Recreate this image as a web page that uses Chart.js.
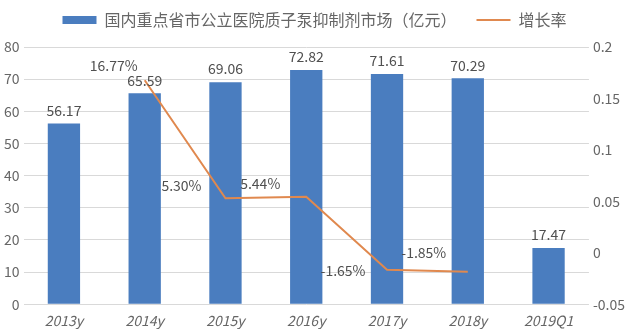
<!DOCTYPE html>
<html>
<head>
<meta charset="utf-8">
<script src="https://cdn.jsdelivr.net/npm/chart.js@4/dist/chart.umd.min.js"></script>
<style>
  html, body { margin: 0; padding: 0; background: #fff; }
  #wrap { width: 633px; height: 333px; }
</style>
</head>
<body>
<div id="wrap"><canvas id="grafico"></canvas></div>
<script>
const categorias = ['2013y', '2014y', '2015y', '2016y', '2017y', '2018y', '2019Q1'];
const mercado = [56.17, 65.59, 69.06, 72.82, 71.61, 70.29, 17.47];
const crescimento = [null, 0.1677, 0.0530, 0.0544, -0.0165, -0.0185, null];
const nomeBarras = '国内重点省市公立医院质子泵抑制剂市场（亿元）';
const nomeLinha = '增长率';

const fonte = '"Noto Sans CJK SC", "Noto Sans", sans-serif';
const cinza = '#666666';

// deslocamento dos rótulos de % em relação ao ponto
const desloc = [null, [-31, -15], [-44, -13], [-46, -13], [-44, 1], [-44, -19], null];

const rotulos = {
  id: 'rotulos',
  beforeLayout(chart) {
    // espaço extra abaixo da legenda
    const leg = chart.legend;
    if (leg && !leg._ajustado) {
      const fit = leg.fit;
      leg.fit = function () { fit.call(this); this.height += 9; };
      leg._ajustado = true;
    }
  },
  afterDatasetsDraw(chart) {
    const ctx = chart.ctx;
    ctx.save();
    ctx.font = '14px ' + fonte;
    ctx.fillStyle = '#505050';
    ctx.textAlign = 'center';
    ctx.textBaseline = 'middle';
    chart.getDatasetMeta(0).data.forEach((bar, i) => {
      ctx.fillText(mercado[i].toFixed(2), bar.x, bar.y - 13);
    });
    chart.getDatasetMeta(1).data.forEach((pt, i) => {
      if (crescimento[i] === null) return;
      const d = desloc[i];
      ctx.fillText((crescimento[i] * 100).toFixed(2) + '%', pt.x + d[0], pt.y + d[1]);
    });
    ctx.restore();
  }
};

new Chart(document.getElementById('grafico'), {
  type: 'bar',
  data: {
    labels: categorias,
    datasets: [
      {
        label: nomeBarras,
        data: mercado,
        backgroundColor: '#4a7dbf',
        yAxisID: 'y',
        order: 2,
        barPercentage: 0.8,
        categoryPercentage: 0.5,
        pointStyle: 'rect'
      },
      {
        type: 'line',
        label: nomeLinha,
        data: crescimento,
        borderColor: '#e0894f',
        backgroundColor: '#e0894f',
        borderWidth: 2,
        pointRadius: 0,
        pointStyle: 'line',
        yAxisID: 'y1',
        order: 1,
        spanGaps: false
      }
    ]
  },
  options: {
    responsive: true,
    maintainAspectRatio: false,
    animation: false,
    layout: { padding: { left: 0, right: 4, top: 0, bottom: 4 } },
    plugins: {
      tooltip: { enabled: false },
      legend: {
        position: 'top',
        labels: {
          usePointStyle: true,
          pointStyleWidth: 34,
          boxHeight: 8,
          padding: 12,
          color: cinza,
          font: { size: 16, family: fonte },
          generateLabels(chart) {
            const itens = Chart.defaults.plugins.legend.labels.generateLabels(chart);
            itens.sort((a, b) => a.datasetIndex - b.datasetIndex);
            itens[0].text += '\u3000';
            return itens;
          }
        }
      }
    },
    scales: {
      x: {
        grid: { display: false },
        border: { display: false },
        ticks: { color: cinza, padding: 0, font: { size: 14, style: 'italic', family: fonte } }
      },
      y: {
        position: 'left',
        min: 0,
        max: 80,
        ticks: { stepSize: 10, color: cinza, font: { size: 14, family: fonte }, padding: 4 },
        grid: { color: '#d9d9d9', drawTicks: false },
        border: { display: false }
      },
      y1: {
        position: 'right',
        min: -0.05,
        max: 0.2,
        ticks: {
          stepSize: 0.05,
          color: cinza,
          font: { size: 14, family: fonte },
          padding: 4,
          callback: v => String(Number(v.toFixed(2)))
        },
        grid: { display: false, drawTicks: false },
        border: { display: false }
      }
    }
  },
  plugins: [rotulos]
});
</script>
</body>
</html>
